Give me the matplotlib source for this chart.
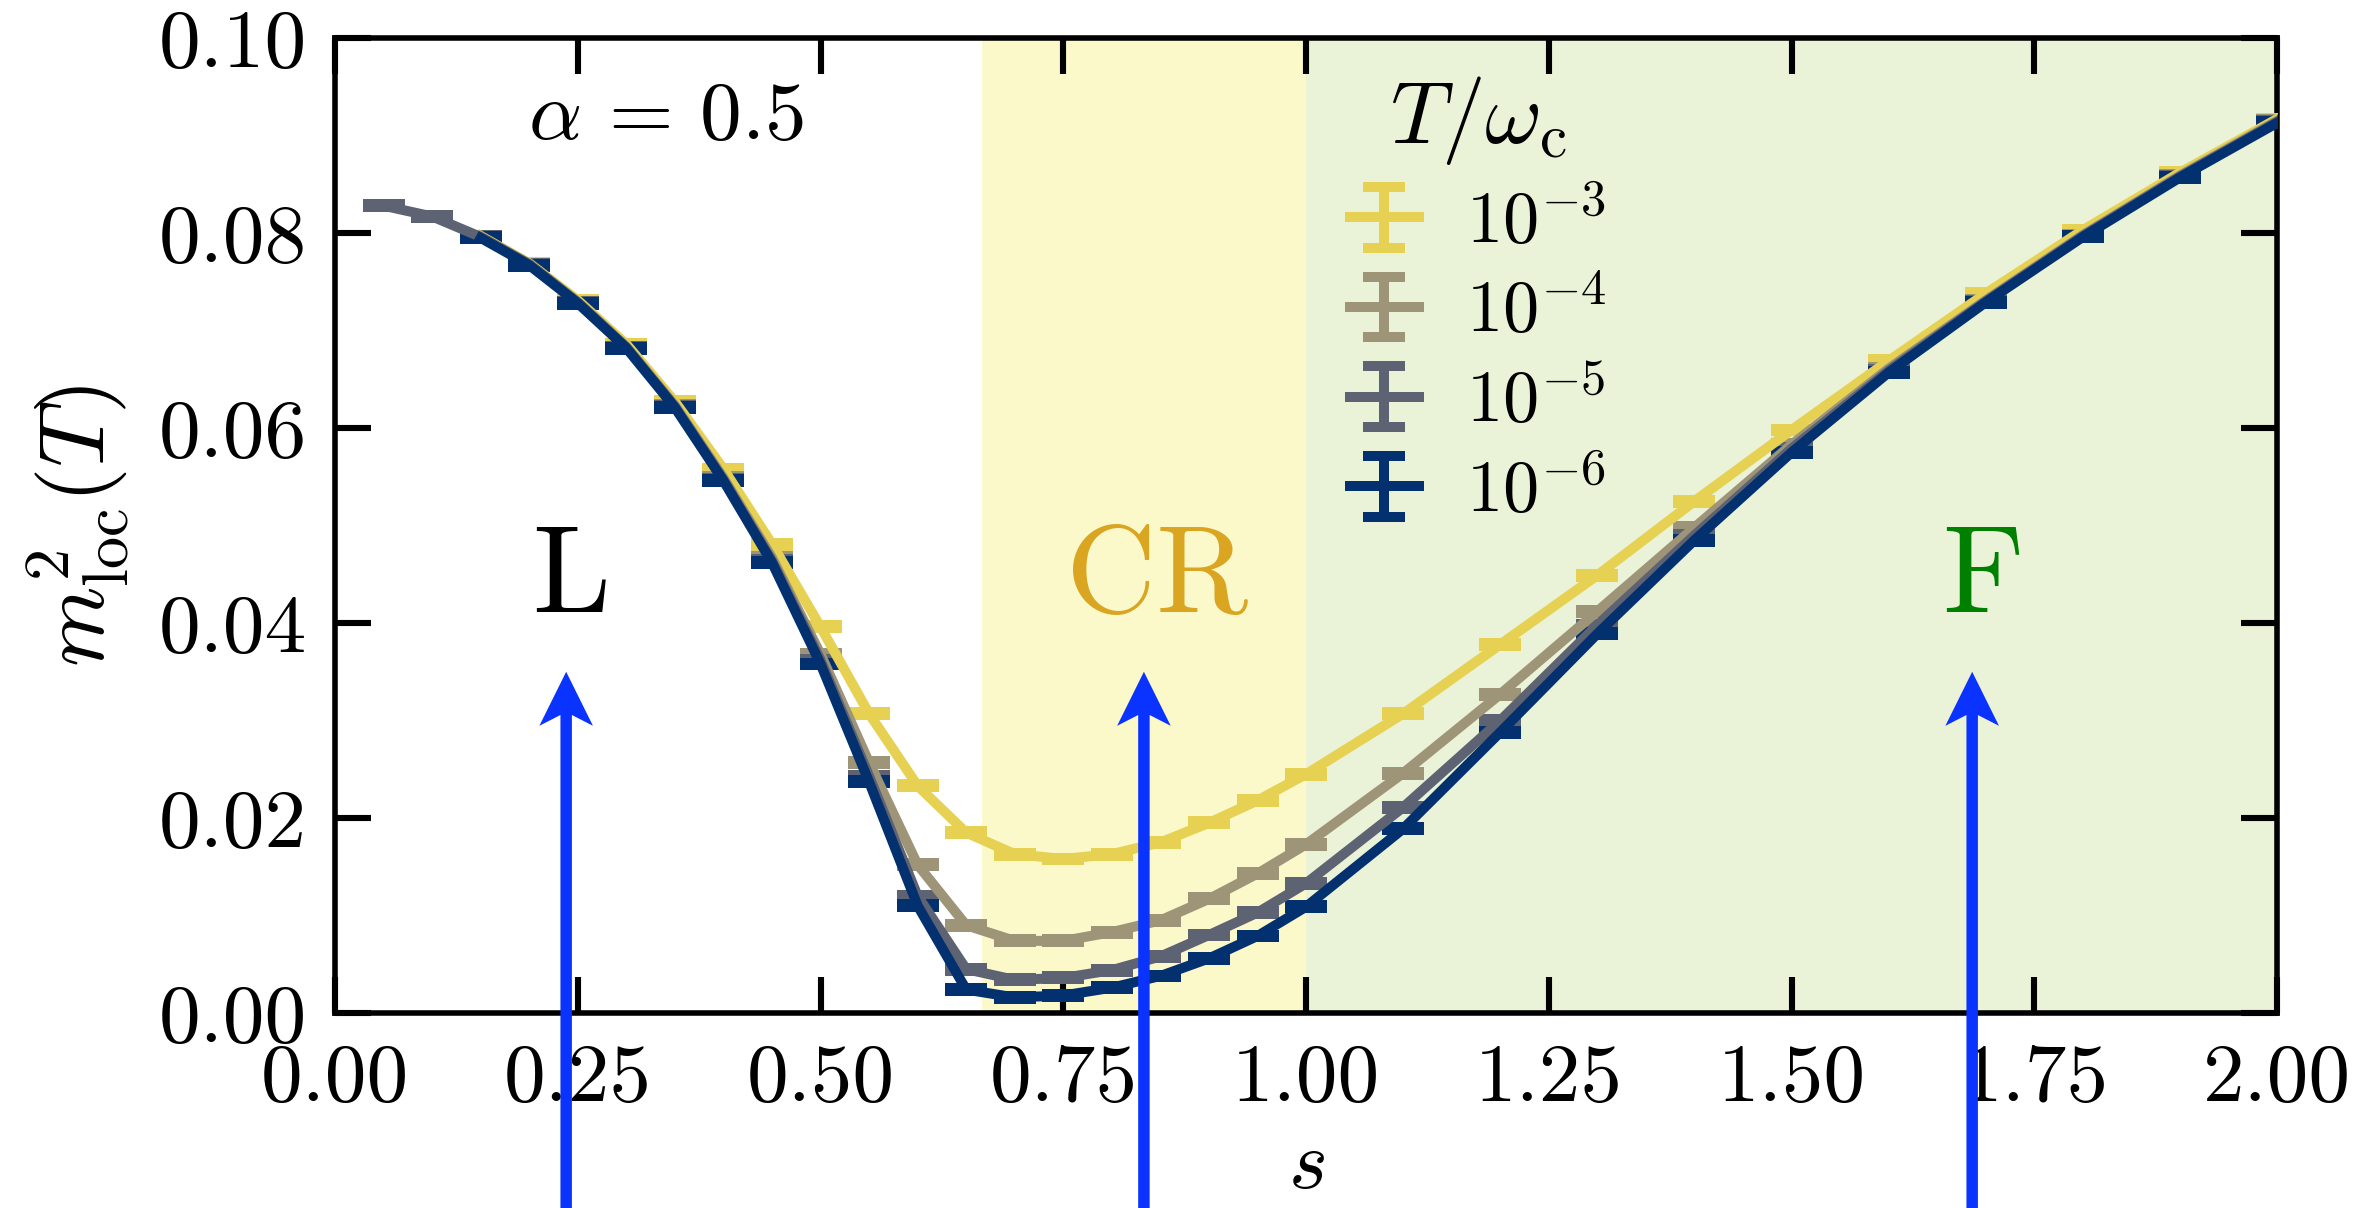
import matplotlib
matplotlib.use("Agg")
import matplotlib.pyplot as plt
from matplotlib.container import ErrorbarContainer
from matplotlib.legend_handler import HandlerErrorbar
import numpy as np

plt.rcParams['font.family'] = 'serif'
plt.rcParams['font.serif'] = ['cmr10']
plt.rcParams['mathtext.fontset'] = 'cm'
plt.rcParams['axes.formatter.use_mathtext'] = True
plt.rcParams['axes.unicode_minus'] = False

# ---------------- data ----------------
s_main = [0.15, 0.20, 0.25, 0.30, 0.35, 0.40, 0.45, 0.50, 0.55, 0.60, 0.65,
          0.70, 0.75, 0.80, 0.85, 0.90, 0.95, 1.00, 1.10, 1.20, 1.30, 1.40,
          1.50, 1.60, 1.70, 1.80, 1.90, 2.00]
s_gray = [0.05, 0.10] + s_main

m_T1e3 = [0.0797, 0.0769, 0.0731, 0.0686, 0.0627, 0.0558, 0.0481, 0.0396,
          0.0307, 0.0233, 0.0185, 0.0163, 0.0158, 0.0163, 0.0175, 0.0195,
          0.0218, 0.0245, 0.0307, 0.0378, 0.0449, 0.0525, 0.0598, 0.0669,
          0.0738, 0.0803, 0.0862, 0.0917]
m_T1e4 = [0.0796, 0.0768, 0.0729, 0.0683, 0.0623, 0.0549, 0.0467, 0.0368,
          0.0257, 0.0152, 0.0090, 0.0074, 0.0074, 0.0083, 0.0095, 0.0117,
          0.0143, 0.0173, 0.0246, 0.0327, 0.0412, 0.0498, 0.0583, 0.0661,
          0.0731, 0.0798, 0.0859, 0.0915]
m_T1e5 = [0.0828, 0.0817,
          0.0796, 0.0768, 0.0729, 0.0683, 0.0622, 0.0547, 0.0464, 0.0362,
          0.0243, 0.0120, 0.0045, 0.0034, 0.0036, 0.0044, 0.0058, 0.0080,
          0.0103, 0.0133, 0.0211, 0.0300, 0.0398, 0.0490, 0.0579, 0.0659,
          0.0730, 0.0797, 0.0858, 0.0914]
m_T1e6 = [0.0795, 0.0767, 0.0728, 0.0682, 0.0621, 0.0546, 0.0462, 0.0358,
          0.0237, 0.0110, 0.0024, 0.0016, 0.0018, 0.0026, 0.0038, 0.0056,
          0.0079, 0.0109, 0.0189, 0.0288, 0.0389, 0.0485, 0.0575, 0.0657,
          0.0729, 0.0796, 0.0857, 0.0913]
err = 0.00015

labels = [r'$10^{-3}$', r'$10^{-4}$', r'$10^{-5}$', r'$10^{-6}$']
colors = ['#E6D153', '#9E9579', '#5E6373', '#03306F']

region_CR = (2.0 / 3.0, 1.0)
region_F = (1.0, 2.0)
arrow_s = [0.238, 0.833, 1.686]
region_labels = ['L', 'CR', 'F']
region_label_colors = ['black', '#DAA520', '#008000']

FS = 30

# ---------------- figure ----------------
fig = plt.figure(figsize=(11.84, 6.04), dpi=200)
ax = fig.add_axes([0.1415, 0.1614, 0.8201, 0.8071])

ax.axvspan(*region_CR, color='#FBF8CA', lw=0, zorder=0)
ax.axvspan(*region_F, color='#EAF3D7', lw=0, zorder=0)

series = [(s_main, m_T1e3), (s_main, m_T1e4), (s_gray, m_T1e5), (s_main, m_T1e6)]
for (xs, ys), c, lab in zip(series, colors, labels):
    ax.errorbar(xs, ys, yerr=err, color=c, lw=3.6, elinewidth=3.6,
                capsize=7.5, capthick=3.6, label=lab, zorder=3)

ax.set_xlim(0, 2)
ax.set_ylim(0, 0.1)
ax.set_xticks([0.0, 0.25, 0.5, 0.75, 1.0, 1.25, 1.5, 1.75, 2.0])
ax.set_xticklabels(['0.00', '0.25', '0.50', '0.75', '1.00', '1.25', '1.50', '1.75', '2.00'])
ax.set_yticks([0.0, 0.02, 0.04, 0.06, 0.08, 0.10])
ax.set_yticklabels(['0.00', '0.02', '0.04', '0.06', '0.08', '0.10'])
ax.tick_params(axis='both', which='major', direction='in', length=13, width=2.2,
               top=True, right=True, labelsize=FS)
ax.tick_params(axis='x', pad=11)
ax.tick_params(axis='y', pad=10)
for sp in ax.spines.values():
    sp.set_linewidth(2.0)

ax.set_xlabel(r'$s$', fontsize=FS, labelpad=5)
ax.set_ylabel(r'$m^2_{\rm loc}(T)$', fontsize=33, labelpad=10)

ax.text(0.341, 0.0918, r'$\alpha\,=\,0.5$', fontsize=FS, ha='center', va='center')

for xs_, lab, col in zip([0.243, 0.847, 1.697], region_labels, region_label_colors):
    ax.text(xs_, 0.0411, lab, fontsize=45, color=col, ha='center', va='baseline')

for xa in arrow_s:
    ax.arrow(xa, -0.03, 0, 0.065, width=0.0118, head_width=0.0552,
             head_length=0.00554, overhang=0.2, length_includes_head=True,
             color='#0A33FF', lw=0, clip_on=False, zorder=10)

leg = ax.legend(loc='upper left', bbox_to_anchor=(0.5227, 0.963), frameon=False,
                fontsize=26, title=r'$T/\omega_{\rm c}$', title_fontsize=31.5,
                handlelength=0.95, handletextpad=0.65, labelspacing=0.3,
                borderpad=0, borderaxespad=0,
                handler_map={ErrorbarContainer: HandlerErrorbar(xerr_size=0.5, yerr_size=0.42)})

fig.savefig('out.png', dpi=200)
